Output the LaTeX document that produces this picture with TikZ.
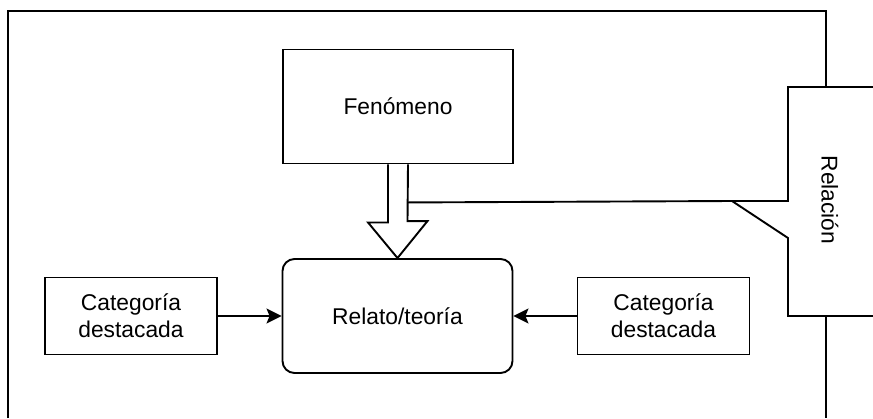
\documentclass[tikz,border=0pt]{standalone}
\usepackage{fontspec}
\setmainfont{Liberation Sans}
\usetikzlibrary{positioning, arrows.meta, calc}

\begin{document}
\begin{tikzpicture}[x=0.5pt, y=-0.5pt, line width=0.95pt,
    font=\fontsize{11.4}{13.5}\selectfont,
    box/.style={draw, align=center, minimum width=115pt, minimum height=57pt},
    cat/.style={draw, align=center, minimum width=86pt, minimum height=38.5pt},
    >={Stealth[length=7.5pt, width=7.5pt, inset=1.5pt]}]
    \useasboundingbox (0,0) rectangle (873,418);

    % frame
    \draw (8,418) -- (8,11) -- (826,11) -- (826,87);
    \draw (826,316) -- (826,418);

    \node[box]                     (fen)  at (398,106.5) {Fenómeno};
    \node[box, rounded corners=6pt] (rel)  at (397.5,316) {Relato/teoría};
    \node[cat]                     (catl) at (131,316)   {Categoría\\destacada};
    \node[cat]                     (catr) at (663.5,316) {Categoría\\destacada};

    % callout
    \coordinate (tip) at (732,201);
    \draw[fill=white] (873,87) -- (788,87) -- (788,201) -- (tip)
        -- (788,238) -- (788,316) -- (873,316);
    \node[rotate=-90] (relac) at (830,200) {Relación};

    % block arrow
    \draw ($(fen.south)+(-10,0)$) -- ++(0,58) -- ++(-20,0) -- (rel.north)
        -- ++(30,-37) -- ++(-20,0) -- ($(fen.south)+(10,0)$);
    \draw ($(fen.south)+(10,38)$) -- (tip);

    \draw[->] (catl) -- (rel);
    \draw[->] (catr) -- (rel);
\end{tikzpicture}
\end{document}
